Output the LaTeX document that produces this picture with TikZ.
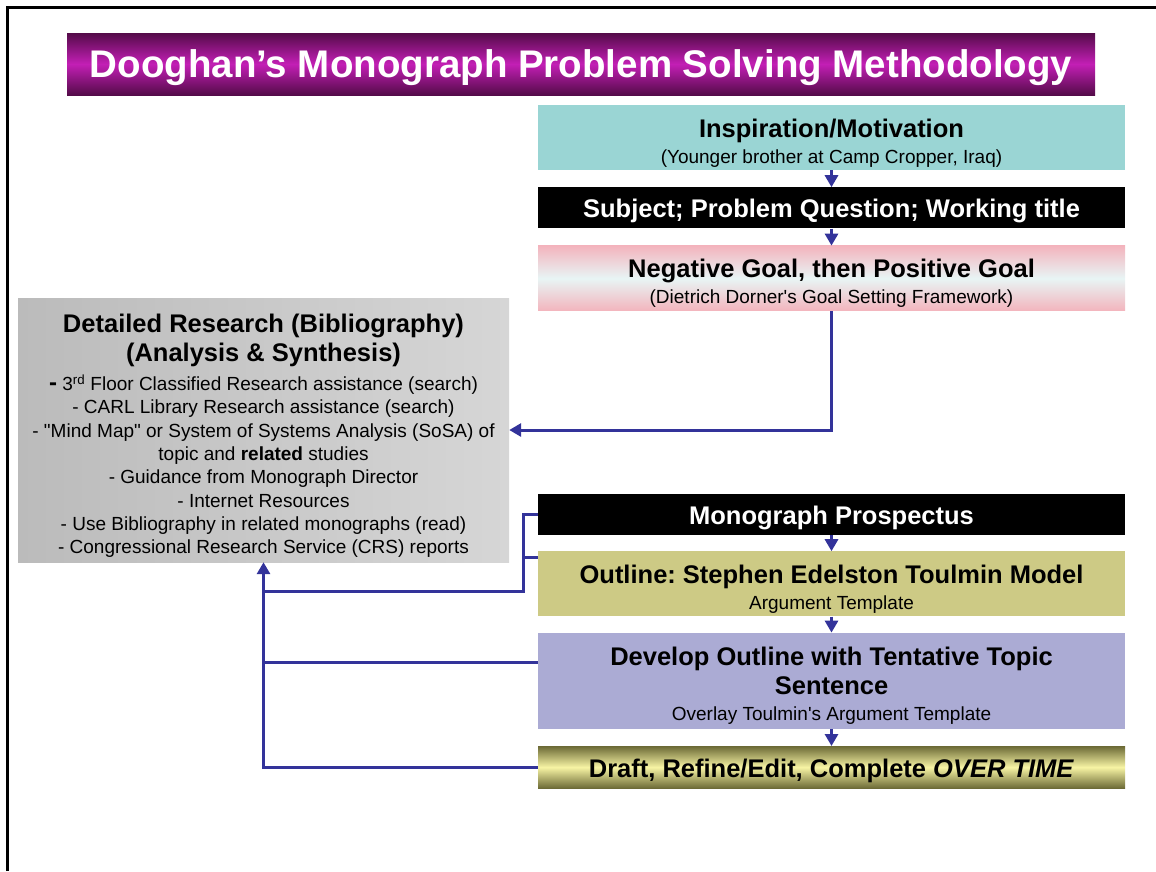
\documentclass[tikz,border=0pt]{standalone}
\usepackage{fontspec}
\setmainfont{Liberation Sans}
\usetikzlibrary{positioning, arrows.meta}
\definecolor{PurpleA}{HTML}{540B49}
\definecolor{PurpleB}{HTML}{C31FB5}
\definecolor{TealA}{HTML}{9AD5D4}
\definecolor{PinkA}{HTML}{F3B4BD}
\definecolor{PinkB}{HTML}{E8F5F5}
\definecolor{GrayA}{HTML}{BBBBBB}
\definecolor{GrayB}{HTML}{D6D6D6}
\definecolor{KhakiA}{HTML}{CDCA85}
\definecolor{LilacA}{HTML}{ABABD4}
\definecolor{OliveA}{HTML}{6C6A36}
\definecolor{OliveB}{HTML}{F7F4A4}
\definecolor{NavyA}{HTML}{33339A}
\tikzset{
  bx/.style={minimum width=587pt, inner sep=0pt, align=center,
             font=\fontsize{19}{26}\selectfont\frenchspacing},
  blk/.style={bx, fill=black, text=white, minimum height=41pt, text height=25pt,
              font=\fontsize{25.5}{29}\selectfont\bfseries},
  ttl/.style={minimum width=1028pt, minimum height=62pt, inner sep=0pt, text height=36pt,
              top color=PurpleA, bottom color=PurpleA, middle color=PurpleB,
              text=white, font=\fontsize{38.5}{44}\selectfont\bfseries},
  gbx/.style={minimum width=491pt, minimum height=264pt, inner sep=0pt,
              align=center, left color=GrayA, right color=GrayB,
              font=\fontsize{19}{23.3}\selectfont\frenchspacing},
  ar/.style={-{Triangle[width=13pt,length=12pt]}, line width=3pt, draw=NavyA},
  ln/.style={line width=3pt, draw=NavyA},
}
\newcommand{\hd}[1]{{\fontsize{25.5}{29}\selectfont\bfseries #1}}
% heading on the first line, with a taller strut to sit lower in its box
\newcommand{\hdtop}[1]{\hd{\rule{0pt}{29pt}#1}}

\begin{document}
\begin{tikzpicture}[x=1pt, y=-1pt]
  \useasboundingbox (0,0) rectangle (1156,871);
  % page frame
  \draw[line width=3.6pt] (7.5,871) -- (7.5,7.5) -- (1156,7.5);

  \node[ttl] (title) at (581,64) {Dooghan's Monograph Problem Solving Methodology};

  % upper chain
  \node[bx, fill=TealA, minimum height=65pt] (insp) at (831.5,137.5)
       {\hdtop{Inspiration/Motivation}\\(Younger brother at Camp Cropper, Iraq)};
  \node[blk, below=17pt of insp] (subj) {Subject; Problem Question; Working title};
  \node[bx, minimum height=65pt, top color=PinkA, bottom color=PinkA,
        middle color=PinkB, below=17pt of subj] (goal)
       {\hdtop{Negative Goal, then Positive Goal}\\(Dietrich Dorner\textquotesingle s Goal Setting Framework)};

  % research box
  \node[gbx] (res) at (263.5,430)
       {\hd{\rule{0pt}{30pt}Detailed Research (Bibliography)}\\[4pt]
        \hd{(Analysis \& Synthesis)}\\[6pt]
        {\fontsize{24}{23}\selectfont\bfseries -} 3\textsuperscript{rd} Floor Classified Research assistance (search)\\
        - CARL Library Research assistance (search)\\
        - \textquotedbl Mind Map\textquotedbl{} or System of Systems Analysis (SoSA) of\\
        topic and \textbf{related} studies\\
        - Guidance from Monograph Director\\
        - Internet Resources\\
        - Use Bibliography in related monographs (read)\\
        - Congressional Research Service (CRS) reports};

  % lower chain
  \node[blk] (prosp) at (831.5,514.5) {Monograph Prospectus};
  \node[bx, fill=KhakiA, minimum height=65pt, below=16pt of prosp] (outl)
       {\hdtop{Outline: Stephen Edelston Toulmin Model}\\Argument Template};
  \node[bx, fill=LilacA, minimum height=96pt, below=16pt of outl] (dev)
       {\hdtop{Develop Outline with Tentative Topic}\\[3pt]\hd{Sentence}\\Overlay Toulmin\textquotesingle s Argument Template};
  \node[bx, minimum height=42pt, text height=25pt, top color=OliveA, bottom color=OliveA,
        middle color=OliveB, below=17pt of dev] (draft)
       {\hd{Draft, Refine/Edit, Complete \textit{OVER TIME}}};

  \coordinate (jn) at (523,591);

  \draw[ar] (insp) -- (subj);
  \draw[ar] (subj) -- (goal);
  \draw[ar] (goal.south) |- (res.east);
  \draw[ar] (prosp) -- (outl);
  \draw[ar] (outl) -- (dev);
  \draw[ar] (dev) -- (draft);
  \draw[ln] (prosp.west) -| (jn) -- (jn -| res.south);
  \draw[ln] ([yshift=-6pt]outl.north west) -- ++(-15,0);
  \draw[ln] ([yshift=18pt]dev.west) -- ([yshift=18pt]dev.west -| res.south);
  \draw[ar] (draft.west) -| (res.south);
\end{tikzpicture}
\end{document}
